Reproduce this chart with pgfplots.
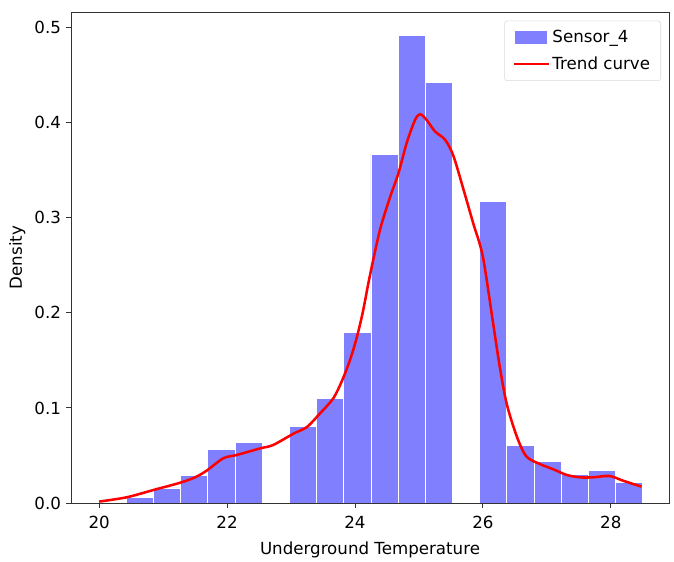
\documentclass[border=0pt]{standalone}
\usepackage{pgfplots}
\pgfplotsset{compat=1.18}
\usepackage{fontspec}
\setmainfont{DejaVu Sans}
\usetikzlibrary{calc}
\definecolor{barblue}{HTML}{8080FF}
\begin{document}
\begin{tikzpicture}
\begin{axis}[
  scale only axis,
  width=448.5pt, height=368.25pt,
  xmin=19.56, xmax=28.91,
  ymin=0, ymax=0.5165,
  axis on top,
  xtick={20,22,24,26,28},
  ytick={0,0.1,0.2,0.3,0.4,0.5},
  yticklabel style={/pgf/number format/.cd, fixed, fixed zerofill, precision=1},
  /pgf/number format/assume math mode=true,
  tick align=outside,
  major tick length=4pt,
  tick style={black!80, line width=0.7pt},
  axis line style={black!80, line width=0.7pt},
  xtick pos=bottom, ytick pos=left,
  font=\fontsize{12.5}{15}\selectfont,
  xticklabel style={yshift=-2pt},
  xlabel={Underground Temperature},
  ylabel={Density},
  every axis x label/.style={at={(rel axis cs:0.5,0)}, anchor=center, yshift=-35pt},
  every axis y label/.style={at={(rel axis cs:-0.09,0.5)}, anchor=center, rotate=90},
  legend style={at={(rel axis cs:1,1)}, anchor=north east, xshift=-6pt, yshift=-6.5pt,
    draw=black!15, rounded corners=2pt, font=\fontsize{12.5}{15}\selectfont,
    row sep=5pt, inner xsep=6pt, inner ysep=5pt},
  legend cell align=left,
]
\addplot[ybar interval, fill=barblue, draw=white, line width=0.6pt,
  area legend,
  legend image code/.code={\fill[barblue, sharp corners] (0pt,-4.5pt) rectangle (23pt,4.5pt);}]
coordinates {
(20.000,0) (20.425,0.0063) (20.850,0.0158) (21.275,0.0288) (21.700,0.0560)
(22.125,0.0635) (22.550,0) (22.975,0.0807) (23.400,0.1098) (23.825,0.1796)
(24.250,0.3670) (24.675,0.4916) (25.100,0.4424) (25.525,0) (25.950,0.3168)
(26.375,0.0607) (26.800,0.0439) (27.225,0.0298) (27.650,0.0344) (28.075,0.0218)
(28.500,0.0218)
};
\addlegendentry{Sensor\_4}
\addplot[red, line width=1.9pt, smooth, tension=0.5,
  legend image code/.code={\draw[red, line width=1.9pt, sharp corners] (-1.5pt,0pt) -- (24.5pt,0pt);}]
coordinates {
(20.00,0.0015) (20.43,0.0060) (20.85,0.0137) (21.27,0.0214) (21.50,0.0270)
(21.68,0.0340) (21.94,0.0470) (22.15,0.0505) (22.52,0.0575) (22.72,0.0610)
(23.04,0.0730) (23.25,0.0800) (23.45,0.0940) (23.66,0.1100) (23.80,0.1290)
(23.92,0.1500) (24.02,0.1720) (24.12,0.2000) (24.23,0.2380) (24.39,0.2870) (24.55,0.3220)
(24.68,0.3470) (24.81,0.3790) (24.94,0.4030) (25.02,0.4090) (25.12,0.4030)
(25.25,0.3910) (25.41,0.3820) (25.54,0.3650) (25.70,0.3290) (25.85,0.2940)
(26.00,0.2590) (26.16,0.1890) (26.26,0.1450) (26.37,0.1050) (26.53,0.0700)
(26.68,0.0490) (26.89,0.0410) (27.10,0.0355) (27.31,0.0295) (27.52,0.0270)
(27.72,0.0270) (27.98,0.0284) (28.19,0.0235) (28.48,0.0172)
};
\addlegendentry{Trend curve}
\coordinate (bl) at (rel axis cs:0,0);
\coordinate (tr) at (rel axis cs:1,1);
\end{axis}
\pgfresetboundingbox
\path[use as bounding box] ($(bl)+(-53.25pt,-43.5pt)$) rectangle ($(tr)+(3.75pt,9pt)$);
\end{tikzpicture}
\end{document}
